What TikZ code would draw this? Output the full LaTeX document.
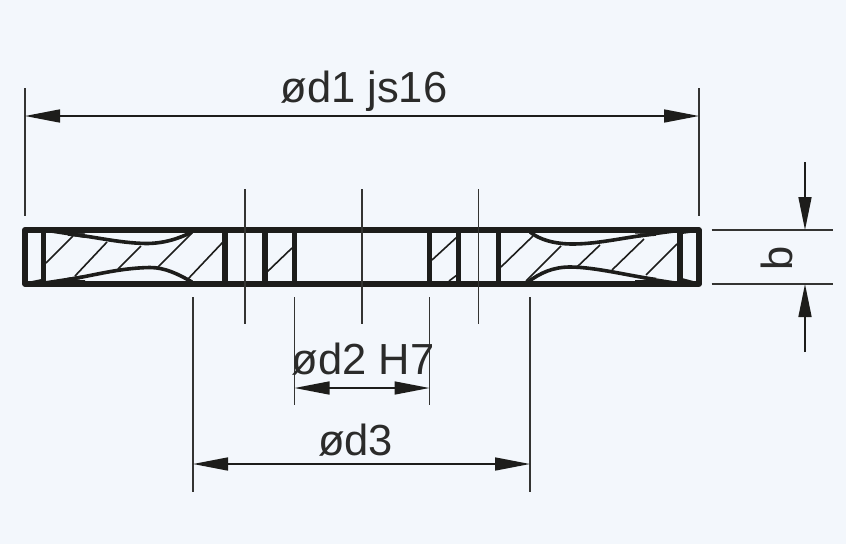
\documentclass[tikz,border=0pt]{standalone}
\usepackage{fontspec}
\setmainfont{Liberation Sans}
\usetikzlibrary{arrows.meta}
\definecolor{bgc}{HTML}{F3F7FC}
\definecolor{ink}{HTML}{1D1D1B}
\definecolor{txt}{HTML}{2B2B2A}
\tikzset{
  thick outline/.style={draw=ink,line width=5.8pt,line join=round},
  bar/.style={draw=ink,line width=5.6pt},
  hatchline/.style={draw=ink,line width=1.6pt},
  thin line/.style={draw=ink!90!white,line width=1.8pt},
  dimline/.style={draw=ink,line width=1.6pt,{Triangle[length=35pt,width=13pt]}-{Triangle[length=35pt,width=13pt]}},
  arrowin/.style={draw=ink,line width=1.6pt,-{Triangle[length=33pt,width=13pt]}},
  profile/.style={draw=ink,line width=3.6pt,fill=bgc,line join=round},
  wedge/.style={fill=ink,draw=none},
  lab/.style={text=txt,font=\fontsize{43.5}{50}\selectfont,inner sep=0pt,anchor=base}
}
\begin{document}
\begin{tikzpicture}[x=1pt,y=-1pt]
\fill[bgc] (0,0) rectangle (846,544);
\useasboundingbox (0,0) rectangle (846,544);

% --- named points
\coordinate (d1L) at (25,116); \coordinate (d1R) at (699,116);
\coordinate (d1Lt) at (25,88); \coordinate (d1Lb) at (25,216);
\coordinate (d1Rt) at (699,88); \coordinate (d1Rb) at (699,216);
\coordinate (d2L) at (294.5,388); \coordinate (d2R) at (429.5,388);
\coordinate (d2Lt) at (294.5,297); \coordinate (d2Lb) at (294.5,405);
\coordinate (d2Rt) at (429.5,297); \coordinate (d2Rb) at (429.5,405);
\coordinate (d3L) at (193,464); \coordinate (d3R) at (530,464);
\coordinate (d3Lt) at (193,297); \coordinate (d3Lb) at (193,492);
\coordinate (d3Rt) at (530,297); \coordinate (d3Rb) at (530,492);

% --- hatching
\draw[hatchline] (46,263) -- (73,236);
\draw[hatchline] (75,276) -- (107,242);
\draw[hatchline] (118,269) -- (141,246);
\draw[hatchline] (158,267) -- (192,233);
\draw[hatchline] (188,279) -- (223,242);
\draw[hatchline] (267,272) -- (292,248);
\draw[hatchline] (432,260) -- (457,237);
\draw[hatchline] (449,281) -- (457,275);
\draw[hatchline] (501,267) -- (533,236);
\draw[hatchline] (526,281) -- (561,246);
\draw[hatchline] (577,267) -- (600,245);
\draw[hatchline] (612,270) -- (644,239);
\draw[hatchline] (646,275) -- (677,244);

% --- tapered wedges
\fill[wedge] (46,232) -- (85,232) -- (85,238) -- cycle;
\fill[wedge] (46,281) -- (85,281) -- (85,275) -- cycle;
\fill[wedge] (27,282) -- (44,282) -- (44,278.5) -- cycle;
\fill[wedge] (680,232) -- (635,232) -- (635,238) -- cycle;
\fill[wedge] (680,282) -- (635,282) -- (635,275) -- cycle;
\fill[wedge] (682,232) -- (697,232) -- (682,234) -- cycle;
\fill[wedge] (682,282) -- (697,282) -- (682,278) -- cycle;

% --- recess profiles
\draw[profile] (68,234) .. controls (92,236) and (118,243) .. (146,243.5)
  .. controls (165,243.5) and (180,238) .. (192,232);
\draw[profile] (68,279.5) .. controls (92,276) and (118,268) .. (150,267.5)
  .. controls (165,267.5) and (178,274) .. (192,282);
\draw[profile] (530,232) .. controls (540,240) and (555,244) .. (573,244)
  .. controls (600,244) and (630,236) .. (656,234);
\draw[profile] (528,282) .. controls (540,273) and (553,267) .. (570,267)
  .. controls (595,267) and (630,276) .. (656,279.5);

% --- outline and bars
\foreach \x in {43.5,225,265,294.5,429.5,458.5,498.5,680}
  \draw[bar] (\x,230) -- (\x,284);
\draw[thick outline] (25,230) rectangle (699,283.7);

% --- centre lines
\draw[thin line] (245,189) -- (245,324);
\draw[thin line] (362,189) -- (362,324);
\draw[thin line] (478.5,189) -- (478.5,324);

% --- extension lines
\draw[thin line] (d1Lt) -- (d1Lb);
\draw[thin line] (d1Rt) -- (d1Rb);
\draw[thin line] (d2Lt) -- (d2Lb);
\draw[thin line] (d2Rt) -- (d2Rb);
\draw[thin line] (d3Lt) -- (d3Lb);
\draw[thin line] (d3Rt) -- (d3Rb);

% --- dimension lines
\draw[dimline] (d1L) -- (d1R);
\draw[dimline] (d2L) -- (d2R);
\draw[dimline] (d3L) -- (d3R);

% --- thickness dimension
\coordinate (bTopA) at (711.5,230); \coordinate (bTopB) at (833,230);
\coordinate (bBotA) at (711.5,284); \coordinate (bBotB) at (833,284);
\coordinate (bUp) at (805,162); \coordinate (bUpTip) at (805,230);
\coordinate (bDn) at (805,352); \coordinate (bDnTip) at (805,284);
\draw[thin line] (bTopA) -- (bTopB);
\draw[thin line] (bBotA) -- (bBotB);
\draw[arrowin] (bUp) -- (bUpTip);
\draw[arrowin] (bDn) -- (bDnTip);

% --- labels
\node[lab] (t1) at (364,102) {ød1 js16};
\node[lab] (t2) at (363,374.5) {ød2 H7};
\node[lab] (t3) at (355.5,455.5) {ød3};
\node[lab,rotate=90] (t4) at (792,258) {b};
\end{tikzpicture}
\end{document}
